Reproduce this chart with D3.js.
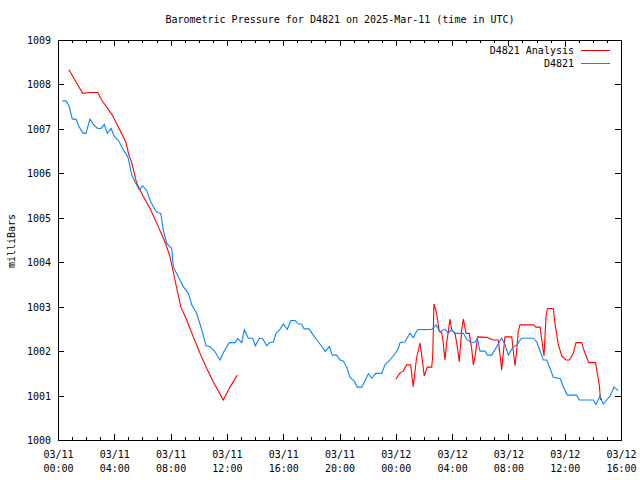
<!DOCTYPE html>
<html><head><meta charset="utf-8">
<script src="https://cdn.jsdelivr.net/npm/d3@7"></script>
<style>
body{margin:0;background:#fff;}
text{font-family:"DejaVu Sans Mono","Liberation Mono",monospace;font-size:10px;fill:#000;}
</style></head><body>
<svg id="c" width="640" height="480"></svg>
<script>
// Hours since 2025-03-11 00:00 UTC, and pressure (mb)
const obsHours = [0.31,0.57,0.78,1.02,1.28,1.49,1.80,1.99,2.27,2.51,2.82,3.06,3.29,3.50,3.77,4.00,4.28,4.64,4.88,4.99,5.24,5.47,5.78,6.02,6.30,6.59,6.89,7.06,7.30,7.48,7.72,8.08,8.19,8.55,8.90,9.26,9.50,9.85,10.21,10.52,10.80,11.15,11.51,11.79,12.17,12.58,12.77,13.05,13.24,13.52,13.83,14.02,14.30,14.54,14.83,15.06,15.30,15.49,15.77,16.01,16.29,16.55,16.84,17.07,17.31,17.48,17.83,18.14,18.49,18.85,18.97,19.28,19.49,19.80,20.04,20.27,20.51,20.75,21.03,21.27,21.58,21.81,22.05,22.29,22.57,23.00,23.23,23.59,23.94,24.18,24.30,24.65,25.01,25.24,25.54,26.55,26.86,27.14,27.50,27.73,27.97,28.21,28.80,29.04,29.32,29.63,29.79,29.98,30.34,30.50,30.81,31.17,31.52,31.76,31.99,32.35,32.59,32.94,33.77,34.01,34.19,34.48,34.72,34.96,35.19,35.55,35.67,35.95,36.19,36.85,37.04,38.03,38.22,38.51,38.74,39.22,39.50,39.81];
const obsValues = [1007.63,1007.63,1007.52,1007.22,1007.22,1007.05,1006.90,1006.90,1007.22,1007.10,1007.01,1007.01,1007.10,1006.90,1007.01,1006.83,1006.75,1006.53,1006.41,1006.34,1005.96,1005.81,1005.63,1005.72,1005.61,1005.36,1005.18,1005.12,1005.10,1004.73,1004.43,1004.31,1003.90,1003.67,1003.45,1003.30,1003.04,1002.85,1002.48,1002.12,1002.10,1001.99,1001.80,1001.99,1002.19,1002.19,1002.28,1002.19,1002.48,1002.29,1002.29,1002.12,1002.29,1002.28,1002.12,1002.20,1002.20,1002.40,1002.49,1002.61,1002.49,1002.69,1002.69,1002.61,1002.61,1002.50,1002.50,1002.36,1002.21,1002.06,1001.99,1002.10,1001.91,1001.91,1001.80,1001.78,1001.64,1001.41,1001.33,1001.19,1001.19,1001.33,1001.49,1001.39,1001.50,1001.50,1001.69,1001.80,1001.94,1002.06,1002.19,1002.21,1002.40,1002.30,1002.48,1002.49,1002.59,1002.44,1002.49,1002.41,1002.48,1002.40,1002.40,1002.27,1002.20,1002.20,1002.29,1002.00,1002.00,1001.91,1001.91,1002.10,1002.29,1002.15,1001.91,1002.10,1002.14,1002.29,1002.29,1002.21,1002.06,1001.80,1001.80,1001.61,1001.41,1001.39,1001.39,1001.16,1001.01,1001.01,1000.90,1000.90,1000.80,1000.99,1000.81,1000.99,1001.19,1001.11];

// Analysis series: two segments
const anaHours1 = [0.78,1.75,2.27,2.82,3.10,3.86,4.81,5.04,5.24,5.59,6.06,6.54,7.01,7.60,7.96,8.31,8.72,9.14,9.61,10.09,10.57,11.03,11.74,12.22,12.74];
const anaValues1 = [1008.33,1007.80,1007.82,1007.82,1007.65,1007.31,1006.71,1006.41,1006.24,1005.78,1005.48,1005.21,1004.88,1004.46,1004.12,1003.60,1003.00,1002.70,1002.32,1001.95,1001.61,1001.31,1000.90,1001.19,1001.46];
const anaHours2 = [24.01,24.30,24.53,24.77,25.06,25.15,25.24,25.47,25.72,25.86,26.02,26.24,26.55,26.62,26.71,26.90,27.09,27.26,27.37,27.49,27.61,27.73,27.85,27.97,28.21,28.37,28.51,28.68,28.80,28.99,29.22,29.39,29.51,29.63,29.82,30.46,30.93,31.28,31.45,31.52,31.64,31.76,32.24,32.35,32.47,32.59,32.70,32.82,33.77,33.96,34.25,34.37,34.53,34.67,34.77,35.19,35.31,35.55,35.79,36.09,36.33,36.61,36.80,37.20,37.40,37.71,38.19,38.35,38.47,38.54];
const anaValues2 = [1001.37,1001.51,1001.55,1001.69,1001.69,1001.42,1001.20,1001.84,1002.18,1001.86,1001.44,1001.64,1001.64,1001.87,1003.06,1002.85,1002.44,1002.42,1002.18,1001.80,1002.18,1002.44,1002.72,1002.48,1002.40,1002.10,1001.76,1002.48,1002.72,1002.40,1002.40,1002.06,1001.69,1001.88,1002.32,1002.31,1002.25,1002.25,1001.80,1001.57,1001.96,1002.32,1002.32,1001.99,1001.67,1002.02,1002.44,1002.59,1002.59,1002.54,1002.54,1002.25,1001.89,1002.77,1002.96,1002.96,1002.62,1002.14,1001.89,1001.80,1001.80,1001.95,1002.19,1002.19,1001.99,1001.74,1001.74,1001.44,1001.20,1000.90];

const yTicks = [1000,1001,1002,1003,1004,1005,1006,1007,1008,1009];
const seriesNames = ["D4821 Analysis","D4821"];
const seriesColors = ["#ff0000","#0a84ff"];
const titleText = "Barometric Pressure for D4821 on 2025-Mar-11 (time in UTC)";
const yLabel = "milliBars";

const t0 = Date.UTC(2025,2,11,0,0);
const toDate = h => new Date(t0 + h*3600000);
const L=58, R=621, T=40, B=440;

const svg = d3.select("#c");
const x = d3.scaleUtc().domain([toDate(0), toDate(40)]).range([L,R]);
const y = d3.scaleLinear().domain([1000,1009]).range([B,T]);

const majorT = d3.range(0,41,4).map(toDate);
const minorT = d3.range(0,41,1).map(toDate);
const fmt1 = d3.utcFormat("%m/%d"), fmt2 = d3.utcFormat("%H:%M");

// minor ticks bottom & top
svg.append("g").attr("transform",`translate(0,${B})`)
  .call(d3.axisBottom(x).tickValues(minorT).tickSize(-3).tickFormat(""))
  .call(g=>g.select(".domain").remove());
svg.append("g").attr("transform",`translate(0,${T})`)
  .call(d3.axisTop(x).tickValues(minorT).tickSize(-3).tickFormat(""))
  .call(g=>g.select(".domain").remove());
// major bottom
const gx = svg.append("g").attr("transform",`translate(0,${B})`)
  .call(d3.axisBottom(x).tickValues(majorT).tickSize(-6).tickPadding(0).tickFormat(""))
  .call(g=>g.select(".domain").remove());
gx.selectAll(".tick").append("text")
  .attr("text-anchor","middle").attr("fill","#000")
  .each(function(d){
    const t=d3.select(this);
    t.append("tspan").attr("x",0).attr("y",18).text(fmt1(d));
    t.append("tspan").attr("x",0).attr("y",32).text(fmt2(d));
  });
svg.append("g").attr("transform",`translate(0,${T})`)
  .call(d3.axisTop(x).tickValues(majorT).tickSize(-6).tickFormat(""))
  .call(g=>g.select(".domain").remove());
// y axis
svg.append("g").attr("transform",`translate(${L},0)`)
  .call(d3.axisLeft(y).tickValues(yTicks).tickSize(-6).tickPadding(8).tickFormat(d3.format("d")))
  .call(g=>g.select(".domain").remove())
  .call(g=>g.selectAll("text").attr("x",-7).attr("dy","0.35em"));
svg.append("g").attr("transform",`translate(${R},0)`)
  .call(d3.axisRight(y).tickValues(yTicks).tickSize(-6).tickFormat(""))
  .call(g=>g.select(".domain").remove());
svg.selectAll(".tick line").attr("stroke","#000").attr("shape-rendering","crispEdges");

// border
svg.append("rect").attr("x",L+0.5).attr("y",T+0.5).attr("width",R-L).attr("height",B-T)
  .attr("fill","none").attr("stroke","#000").attr("shape-rendering","crispEdges");

// lines
const line = d3.line().x(d=>x(d[0])).y(d=>y(d[1]));
const zip = (a,b)=>a.map((h,i)=>[toDate(h),b[i]]);
[[zip(anaHours1,anaValues1),0],[zip(anaHours2,anaValues2),0],[zip(obsHours,obsValues),1]]
.forEach(([data,si])=>{
  svg.append("path").datum(data).attr("d",line).attr("fill","none")
    .attr("stroke",seriesColors[si]).attr("stroke-width",1.1);
});

// title
svg.append("text").attr("x",340).attr("y",23).attr("text-anchor","middle").text(titleText);
svg.append("text").attr("transform","translate(15,241) rotate(-90)").attr("text-anchor","middle").text(yLabel);

// legend
seriesNames.forEach((n,i)=>{
  const yy = 50 + i*13;
  svg.append("text").attr("x",574).attr("y",yy).attr("dy","0.35em").attr("text-anchor","end").text(n);
  svg.append("line").attr("x1",581).attr("x2",610).attr("y1",yy+0.5).attr("y2",yy+0.5)
    .attr("stroke",seriesColors[i]).attr("shape-rendering","crispEdges");
});
</script></body></html>
